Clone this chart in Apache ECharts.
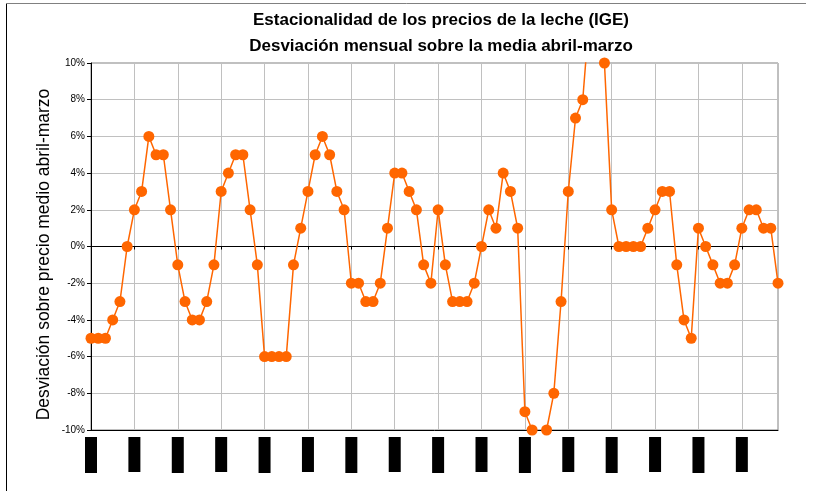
<!DOCTYPE html>
<html>
<head>
<meta charset="utf-8">
<script src="https://cdn.jsdelivr.net/npm/echarts@6/dist/echarts.min.js"></script>
<style>
  html, body { margin: 0; padding: 0; background: #fff; }
  #chart { width: 814px; height: 491px; }
</style>
</head>
<body>
<div id="chart"></div>
<script>
// Monthly categories, April to March, eight campaigns
const monthNames = ['abr', 'may', 'jun', 'jul', 'ago', 'sep', 'oct', 'nov', 'dic', 'ene', 'feb', 'mar'];
const firstYear = 1999;
const months = [];
for (let y = 0; y < 8; y++) {
  for (let m = 0; m < 12; m++) {
    const yr = firstYear + y + (m >= 9 ? 1 : 0);
    months.push(monthNames[m] + '-' + String(yr % 100).padStart(2, '0'));
  }
}

// Deviation of the monthly price from the April-March mean (%)
const deviation = [
  -5, -5, -5, -4, -3, 0, 2, 3, 6, 5, 5, 2,
  -1, -3, -4, -4, -3, -1, 3, 4, 5, 5, 2, -1,
  -6, -6, -6, -6, -1, 1, 3, 5, 6, 5, 3, 2,
  -2, -2, -3, -3, -2, 1, 4, 4, 3, 2, -1, -2,
  2, -1, -3, -3, -3, -2, 0, 2, 1, 4, 3, 1,
  -9, -10, -12, -10, -8, -3, 3, 7, 8, 13, 16, 10,
  2, 0, 0, 0, 0, 1, 2, 3, 3, -1, -4, -5,
  1, 0, -1, -2, -2, -1, 1, 2, 2, 1, 1, -2
];

const titleLines = ['Estacionalidad de los precios de la leche (IGE)', 'Desviación mensual sobre la media abril-marzo'];
const yAxisTitle = 'Desviación sobre precio medio abril-marzo';

const chart = echarts.init(document.getElementById('chart'), null, { renderer: 'canvas' });

chart.setOption({
  backgroundColor: '#fff',
  animation: false,
  title: {
    text: titleLines.join('\n'),
    left: 436,
    top: 2,
    textAlign: 'center',
    textStyle: {
      fontFamily: 'Liberation Sans, Arial, sans-serif',
      fontWeight: 'bold',
      fontSize: 17,
      lineHeight: 26,
      color: '#000'
    }
  },
  graphic: [
    { type: 'line', shape: { x1: 6.5, y1: 3.5, x2: 6.5, y2: 491 }, style: { stroke: '#000', lineWidth: 1 } },
    { type: 'line', shape: { x1: 6.5, y1: 3.5, x2: 806, y2: 3.5 }, style: { stroke: '#808080', lineWidth: 1 } }
  ],
  grid: {
    left: 91, right: 36, top: 63, bottom: 61,
    show: true,
    borderColor: '#808080',
    borderWidth: 1
  },
  xAxis: [
    {
      type: 'category',
      data: months,
      boundaryGap: false,
      position: 'bottom',
      axisLine: { onZero: false, lineStyle: { color: '#000', width: 1 } },
      axisTick: { show: false },
      axisLabel: {
        interval: 5,
        rotate: 90,
        margin: 7,
        fontFamily: 'Liberation Sans, Arial, sans-serif',
        fontSize: 9,
        lineHeight: 10,
        color: '#000',
        backgroundColor: '#000',
        padding: [1, 5, 1, 5]
      },
      splitLine: { show: true, interval: 5, lineStyle: { color: '#c0c0c0', width: 1 } }
    },
    {
      type: 'category',
      data: months,
      boundaryGap: false,
      position: 'top',
      axisLine: { onZero: true, lineStyle: { color: '#000', width: 1 } },
      axisTick: { show: true, inside: true, interval: 5, length: 3, lineStyle: { color: '#000' } },
      axisLabel: { show: false },
      splitLine: { show: false }
    }
  ],
  yAxis: {
    type: 'value',
    min: -10,
    max: 10,
    interval: 2,
    name: yAxisTitle,
    nameLocation: 'middle',
    nameRotate: 90,
    nameGap: 38,
    nameMoveOverlap: false,
    nameTextStyle: {
      fontFamily: 'Liberation Sans, Arial, sans-serif',
      fontSize: 17.5,
      color: '#000',
      padding: [0, 16, 0, 0]
    },
    axisLine: { show: true, lineStyle: { color: '#000', width: 1 } },
    axisTick: { show: true, length: 4, lineStyle: { color: '#000' } },
    axisLabel: {
      formatter: '{value}%',
      margin: 6,
      fontFamily: 'Liberation Sans, Arial, sans-serif',
      fontSize: 10,
      color: '#000'
    },
    splitLine: { show: true, lineStyle: { color: '#c0c0c0', width: 1 } }
  },
  series: [
    {
      type: 'line',
      xAxisIndex: 0,
      data: deviation,
      clip: true,
      symbol: 'circle',
      symbolSize: 11,
      showAllSymbol: true,
      itemStyle: { color: '#ff6600' },
      lineStyle: { color: '#ff6600', width: 1.5 },
      z: 5
    }
  ]
});
</script>
</body>
</html>
